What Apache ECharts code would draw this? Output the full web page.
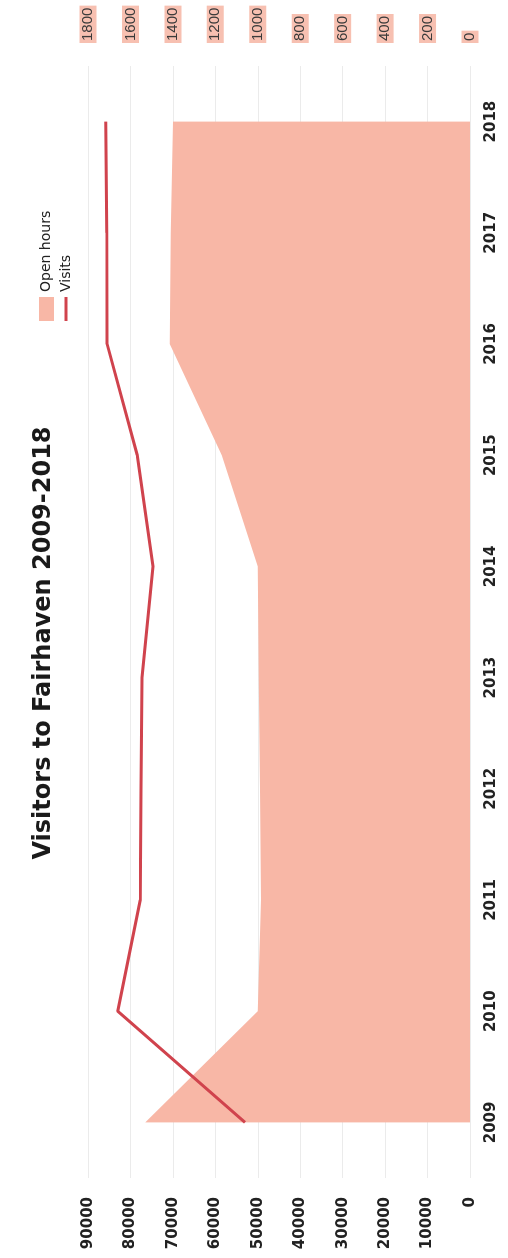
<!DOCTYPE html>
<html>
<head>
<meta charset="utf-8">
<script src="https://cdn.jsdelivr.net/npm/echarts@6/dist/echarts.min.js"></script>
<style>
  html, body { margin: 0; padding: 0; width: 508px; height: 1258px; overflow: hidden; background: #fff; }
  /* The chart is laid out landscape and turned a quarter turn counter-clockwise on the page */
  #chart {
    position: absolute; left: 0; top: 0;
    width: 1258px; height: 508px;
    transform-origin: 0 0;
    transform: translateY(1258px) rotate(-90deg);
  }
</style>
</head>
<body>
<div id="chart"></div>
<script>
// Years on the category axis
const years = ['2009', '2010', '2011', '2012', '2013', '2014', '2015', '2016', '2017', '2018'];
// Annual visits (left axis)
const visits = [53000, 83000, 77700, 77500, 77300, 74700, 78400, 85500, 85600, 85800];
// Annual open hours (right axis)
const openHours = [1530, 1000, 985, 990, 995, 1000, 1170, 1415, 1410, 1400];

const chart = echarts.init(document.getElementById('chart'), null, { renderer: 'canvas' });

const gothic = '"DejaVu Sans", "Liberation Sans", sans-serif';
const areaPink = '#f8b7a6';
const visitsRed = '#d0434d';
const plain = v => String(v);

chart.setOption({
  backgroundColor: '#ffffff',
  animation: false,
  title: {
    text: 'Visitors to Fairhaven 2009-2018',
    left: 610,
    top: 27,
    textAlign: 'center',
    textStyle: { fontFamily: gothic, fontSize: 24, fontWeight: 'bold', color: '#1a1a1a' }
  },
  legend: {
    orient: 'vertical',
    left: 932,
    top: 34,
    itemGap: 5,
    itemWidth: 24,
    itemHeight: 15,
    textStyle: { fontFamily: gothic, fontSize: 14, color: '#222' },
    data: [
      { name: 'Open hours', icon: 'rect' },
      { name: 'Visits', icon: 'path://M0,6 H24 V9 H0 Z' }
    ]
  },
  grid: { left: 80, right: 66, top: 88, bottom: 38, containLabel: false },
  xAxis: {
    type: 'category',
    data: years,
    boundaryGap: true,
    axisLine: { show: false },
    axisTick: { show: false },
    axisLabel: { margin: 14, fontFamily: gothic, fontSize: 15, fontWeight: 'bold', color: '#222' }
  },
  yAxis: [
    {
      type: 'value',
      min: 0, max: 90000, interval: 10000,
      position: 'left',
      axisLine: { show: false },
      axisTick: { show: false },
      splitLine: { lineStyle: { color: '#ebebeb', width: 1 } },
      axisLabel: { margin: 19, formatter: plain, fontFamily: gothic, fontSize: 15, fontWeight: 'bold', color: '#222' }
    },
    {
      type: 'value',
      min: 0, max: 1800, interval: 200,
      position: 'right',
      axisLine: { show: false },
      axisTick: { show: false },
      splitLine: { show: false },
      axisLabel: {
        margin: 23,
        formatter: plain,
        fontFamily: '"Liberation Sans", Arial, sans-serif',
        fontSize: 15,
        color: '#3a3a3a',
        backgroundColor: '#f7c0b1',
        padding: [1, 2]
      }
    }
  ],
  series: [
    {
      name: 'Open hours',
      type: 'line',
      yAxisIndex: 1,
      data: openHours,
      symbol: 'none',
      itemStyle: { color: areaPink },
      lineStyle: { width: 0, color: areaPink },
      areaStyle: { color: areaPink, opacity: 1 },
      z: 1
    },
    {
      name: 'Visits',
      type: 'line',
      yAxisIndex: 0,
      data: visits,
      symbol: 'none',
      itemStyle: { color: visitsRed },
      lineStyle: { width: 3, color: visitsRed },
      z: 3
    }
  ]
});
</script>
</body>
</html>
